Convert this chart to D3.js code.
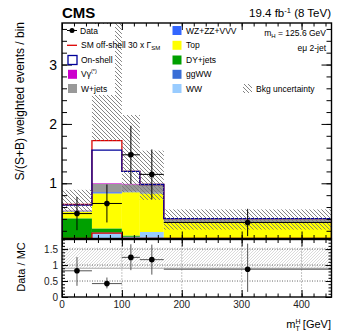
<!DOCTYPE html>
<html>
<head>
<meta charset="utf-8">
<script src="https://cdn.jsdelivr.net/npm/d3@7"></script>
<style>
  body { margin: 0; background: #fff; }
  svg { font-family: "Liberation Sans", Arial, sans-serif; }
</style>
</head>
<body>
<div id="chart"></div>
<script>
// bin edges of mT^H [GeV]
const binEdges = [0, 50, 100, 130, 170, 450];

// stacked backgrounds, bottom to top
const ww     = [0.02, 0.16, 0.09, 0.18, 0.02];
const ggww   = [0.01, 0.01, 0.01, 0.00, 0.01];
const dyjets = [0.38, 0.07, 0.02, 0.00, 0.01];
const topBkg = [0.11, 0.59, 0.73, 0.65, 0.30];
const wzzz   = [0.005, 0.02, 0.01, 0.01, 0.005];
const wjets  = [0.015, 0.14, 0.12, 0.13, 0.05];
const vgamma = [0.003, 0.01, 0.01, 0.00, 0.00];

// signals
const onShell  = [0.09, 0.56, 0.21, 0.01, 0.01];
const offShell = [0.01, 0.16, 0.00, 0.00, 0.00];

// background uncertainty band
const bkgUncLo = [0.52, 1.72, 0.85, 0.72, 0.22];
const bkgUncHi = [0.89, 3.75, 2.15, 1.55, 0.56];

// data
const dataX   = [25, 75, 115, 150, 310];
const dataY   = [0.49, 0.66, 1.48, 1.15, 0.34];
const dataErr = [0.28, 0.32, 0.49, 0.42, 0.23];

// data / MC
const ratioY     = [0.82, 0.42, 1.24, 1.17, 0.87];
const ratioErrLo = [0.47, 0.15, 0.40, 0.47, 0.71];
const ratioErrHi = [0.43, 0.19, 0.41, 0.47, 0.80];
const ratioBandLo = [0.90, 0.90, 0.90, 0.90, 0.90];
const ratioBandHi = [1.55, 1.55, 1.55, 1.55, 1.55];

const xTicks = [0, 100, 200, 300, 400];
const yTicks = [1, 2, 3];
const ratioTicks = [0, 0.5, 1, 1.5];

const W = 349, H = 333;
const left = 62, right = 331.5;
const mainTop = 23, mainBottom = 238.5;
const ratioTop = 239.5, ratioBottom = 297;

const svg = d3.select("#chart").append("svg")
    .attr("width", W).attr("height", H);

const defs = svg.append("defs");
defs.append("pattern")
    .attr("id", "hatch")
    .attr("patternUnits", "userSpaceOnUse")
    .attr("width", 4).attr("height", 4)
    .append("path")
    .attr("d", "M-1,-1 L5,5 M-1,3 L1,5 M3,-1 L5,1")
    .attr("stroke", "#777").attr("stroke-width", 0.9);
defs.append("pattern")
    .attr("id", "hatchLight")
    .attr("patternUnits", "userSpaceOnUse")
    .attr("width", 3).attr("height", 3)
    .append("path")
    .attr("d", "M-1,4 L4,-1 M-1,1 L1,-1 M2,4 L4,2")
    .attr("stroke", "#ccc").attr("stroke-width", 0.7);
defs.append("clipPath").attr("id", "clipMain")
    .append("rect").attr("x", left).attr("y", mainTop)
    .attr("width", right - left).attr("height", mainBottom - mainTop);
defs.append("clipPath").attr("id", "clipRatio")
    .append("rect").attr("x", left).attr("y", ratioTop)
    .attr("width", right - left).attr("height", ratioBottom - ratioTop);

const x = d3.scaleLinear().domain([0, 450]).range([left, right]);
const y = d3.scaleLinear().domain([0.07, 3.7]).range([mainBottom, mainTop]);
const yr = d3.scaleLinear().domain([0, 1.8]).range([ratioBottom, ratioTop]);

// build table for the stack
const bins = d3.range(binEdges.length - 1).map(i => ({
    lo: binEdges[i], hi: binEdges[i + 1],
    ww: ww[i], ggww: ggww[i], dy: dyjets[i], top: topBkg[i],
    wz: wzzz[i], wjets: wjets[i], vg: vgamma[i]
}));
const keys = ["ww", "ggww", "dy", "top", "wz", "wjets", "vg"];
const colors = {
    ww: "#99ccff", ggww: "#3a6ed6", dy: "#00a000", top: "#ffff00",
    wz: "#3366ff", wjets: "#999999", vg: "#cc00cc"
};
const series = d3.stack().keys(keys)(bins);
const bkgTotal = bins.map(b => d3.sum(keys, k => b[k]));

const gMain = svg.append("g").attr("clip-path", "url(#clipMain)");

series.forEach(s => {
    gMain.selectAll(null)
        .data(s)
        .enter().append("rect")
        .attr("x", d => x(d.data.lo))
        .attr("width", d => x(d.data.hi) - x(d.data.lo))
        .attr("y", d => y(d[1]))
        .attr("height", d => Math.max(0, y(d[0]) - y(d[1])))
        .attr("fill", colors[s.key]);
});

// step path helper
function stepPath(vals, scale, yMin) {
    let p = "";
    vals.forEach((v, i) => {
        const yy = scale(Math.max(v, yMin));
        p += (i === 0 ? `M${x(binEdges[0])},${scale(yMin)}V${yy}` : `V${yy}`) + `H${x(binEdges[i + 1])}`;
    });
    return p + `V${scale(yMin)}`;
}

// off-shell alone (red) along bottom
gMain.append("path")
    .attr("d", stepPath(offShell, y, 0.07))
    .attr("fill", "none").attr("stroke", "#dd0000").attr("stroke-width", 1.3);

// stacked signals
const withOn = bkgTotal.map((v, i) => v + onShell[i]);
const withOff = withOn.map((v, i) => v + offShell[i]);
gMain.append("path")
    .attr("d", stepPath(withOff, y, 0.07))
    .attr("fill", "none").attr("stroke", "#dd0000").attr("stroke-width", 1.3);
gMain.append("path")
    .attr("d", stepPath(withOn, y, 0.07))
    .attr("fill", "none").attr("stroke", "#000099").attr("stroke-width", 1.3);

// uncertainty band
gMain.selectAll(".unc")
    .data(bins)
    .enter().append("rect")
    .attr("x", d => x(d.lo))
    .attr("width", d => x(d.hi) - x(d.lo))
    .attr("y", (d, i) => y(bkgUncHi[i]))
    .attr("height", (d, i) => y(bkgUncLo[i]) - y(bkgUncHi[i]))
    .attr("fill", "url(#hatch)");

// left legend box (white) covers band
svg.append("rect").attr("x", left + 1).attr("y", mainTop + 1)
    .attr("width", 52).attr("height", 71).attr("fill", "#fff");

// data points main
const gData = svg.append("g").attr("clip-path", "url(#clipMain)");
dataX.forEach((dx, i) => {
    gData.append("line")
        .attr("x1", x(binEdges[i])).attr("x2", x(binEdges[i + 1]))
        .attr("y1", y(dataY[i])).attr("y2", y(dataY[i]))
        .attr("stroke", "#000").attr("stroke-width", 1);
    gData.append("line")
        .attr("x1", x(dx)).attr("x2", x(dx))
        .attr("y1", y(dataY[i] - dataErr[i])).attr("y2", y(dataY[i] + dataErr[i]))
        .attr("stroke", "#000").attr("stroke-width", 1);
    gData.append("circle")
        .attr("cx", x(dx)).attr("cy", y(dataY[i])).attr("r", 2.8)
        .attr("fill", "#000");
});

// ratio panel
const gRatio = svg.append("g").attr("clip-path", "url(#clipRatio)");
gRatio.selectAll(".rb")
    .data(bins)
    .enter().append("rect")
    .attr("x", d => x(d.lo))
    .attr("width", d => x(d.hi) - x(d.lo))
    .attr("y", (d, i) => yr(ratioBandHi[i]))
    .attr("height", (d, i) => yr(ratioBandLo[i]) - yr(ratioBandHi[i]))
    .attr("fill", "url(#hatchLight)");
gRatio.append("path")
    .attr("d", stepPath(ratioBandLo, yr, 0).replace(/^M[^V]*V[^V]*/, m => m))
    .attr("fill", "none").attr("stroke", "#aaa").attr("stroke-width", 1);
xTicks.slice(1).forEach(t => {
    gRatio.append("line")
        .attr("x1", x(t)).attr("x2", x(t))
        .attr("y1", ratioTop).attr("y2", ratioBottom)
        .attr("stroke", "#888").attr("stroke-dasharray", "1,2");
});
[0.5, 1, 1.5].forEach(t => {
    gRatio.append("line")
        .attr("x1", left).attr("x2", right)
        .attr("y1", yr(t)).attr("y2", yr(t))
        .attr("stroke", "#666").attr("stroke-dasharray", "1,1.5");
});
dataX.forEach((dx, i) => {
    gRatio.append("line")
        .attr("x1", x(binEdges[i])).attr("x2", x(binEdges[i + 1]))
        .attr("y1", yr(ratioY[i])).attr("y2", yr(ratioY[i]))
        .attr("stroke", "#555").attr("stroke-width", 1);
    gRatio.append("line")
        .attr("x1", x(dx)).attr("x2", x(dx))
        .attr("y1", yr(ratioY[i] - ratioErrLo[i])).attr("y2", yr(ratioY[i] + ratioErrHi[i]))
        .attr("stroke", "#555").attr("stroke-width", 1);
    gRatio.append("circle")
        .attr("cx", x(dx)).attr("cy", yr(ratioY[i])).attr("r", 2.8)
        .attr("fill", "#000");
});

// axes with inward ticks (ROOT style)
function ticksAxis(axisFn, scale, pos, values, size, transform) {
    svg.append("g")
        .attr("transform", transform)
        .call(axisFn(scale).tickValues(values).tickSize(size).tickFormat(""))
        .call(g => g.select(".domain").remove())
        .selectAll("line").attr("stroke", "#000");
}
const xMinor = d3.range(0, 451, 20);
const yMinor = d3.range(0.2, 3.7, 0.2);
const rMinor = d3.range(0, 1.81, 0.1);

// main panel
ticksAxis(d3.axisBottom, x, 0, xMinor, -3.5, `translate(0,${mainBottom})`);
ticksAxis(d3.axisBottom, x, 0, xTicks, -7, `translate(0,${mainBottom})`);
ticksAxis(d3.axisTop, x, 0, xMinor, -3.5, `translate(0,${mainTop})`);
ticksAxis(d3.axisTop, x, 0, xTicks, -7, `translate(0,${mainTop})`);
ticksAxis(d3.axisLeft, y, 0, yMinor, -5, `translate(${left},0)`);
ticksAxis(d3.axisLeft, y, 0, yTicks, -10, `translate(${left},0)`);
ticksAxis(d3.axisRight, y, 0, yMinor, -5, `translate(${right},0)`);
ticksAxis(d3.axisRight, y, 0, yTicks, -10, `translate(${right},0)`);
// ratio panel
ticksAxis(d3.axisBottom, x, 0, xMinor, -3.5, `translate(0,${ratioBottom})`);
ticksAxis(d3.axisBottom, x, 0, xTicks, -7, `translate(0,${ratioBottom})`);
ticksAxis(d3.axisTop, x, 0, xMinor, -3.5, `translate(0,${ratioTop})`);
ticksAxis(d3.axisTop, x, 0, xTicks, -7, `translate(0,${ratioTop})`);
ticksAxis(d3.axisLeft, yr, 0, rMinor, -3, `translate(${left},0)`);
ticksAxis(d3.axisLeft, yr, 0, ratioTicks, -6, `translate(${left},0)`);
ticksAxis(d3.axisRight, yr, 0, rMinor, -3, `translate(${right},0)`);
ticksAxis(d3.axisRight, yr, 0, ratioTicks, -6, `translate(${right},0)`);

// frames
svg.append("rect").attr("x", left).attr("y", mainTop)
    .attr("width", right - left).attr("height", mainBottom - mainTop)
    .attr("fill", "none").attr("stroke", "#000").attr("stroke-width", 1.4);
svg.append("rect").attr("x", left).attr("y", ratioTop)
    .attr("width", right - left).attr("height", ratioBottom - ratioTop)
    .attr("fill", "none").attr("stroke", "#000").attr("stroke-width", 1.4);

// tick labels
svg.append("g").selectAll("text").data(yTicks).enter().append("text")
    .attr("x", 57).attr("y", d => y(d) + 5)
    .attr("text-anchor", "end").attr("font-size", 14).text(d => d);
svg.append("g").selectAll("text").data(ratioTicks).enter().append("text")
    .attr("x", 58).attr("y", d => yr(d) + 3.5)
    .attr("text-anchor", "end").attr("font-size", 10).attr("fill", "#222").text(d => d);
svg.append("g").selectAll("text").data(xTicks).enter().append("text")
    .attr("x", d => x(d)).attr("y", 307.5)
    .attr("text-anchor", "middle").attr("font-size", 10).attr("fill", "#222").text(d => d);

// axis titles
svg.append("text")
    .attr("transform", "translate(24,22) rotate(-90)")
    .attr("text-anchor", "end").attr("font-size", 12)
    .text("S/(S+B) weighted events / bin");
svg.append("text")
    .attr("transform", "translate(25,267) rotate(-90)")
    .attr("text-anchor", "middle").attr("font-size", 11)
    .text("Data / MC");
const xt = svg.append("text").attr("x", 331).attr("y", 328)
    .attr("text-anchor", "end").attr("font-size", 11);
xt.append("tspan").text("m");
xt.append("tspan").attr("font-size", 7).attr("dy", -4).text("H");
xt.append("tspan").attr("font-size", 7).attr("dx", -5).attr("dy", 7).text("T");
xt.append("tspan").attr("dy", -3).text(" [GeV]");

// header
svg.append("text").attr("x", 62).attr("y", 18)
    .attr("font-size", 15).attr("font-weight", "bold").text("CMS");
const lumi = svg.append("text").attr("x", 331).attr("y", 17)
    .attr("text-anchor", "end").attr("font-size", 11.5);
lumi.append("tspan").text("19.4 fb");
lumi.append("tspan").attr("font-size", 7.5).attr("dy", -4).text("-1");
lumi.append("tspan").attr("dy", 4).text(" (8 TeV)");

const mh = svg.append("text").attr("x", 326).attr("y", 36)
    .attr("text-anchor", "end").attr("font-size", 8.5);
mh.append("tspan").text("m");
mh.append("tspan").attr("font-size", 6).attr("dy", 2).text("H");
mh.append("tspan").attr("dy", -2).text(" = 125.6 GeV");
svg.append("text").attr("x", 326).attr("y", 51)
    .attr("text-anchor", "end").attr("font-size", 8.5).text("eμ 2-jet");

// legend
const rowY = [30.5, 45.3, 60, 74.3, 88.5];
const lg = svg.append("g").attr("font-size", 8.5);
// left column
lg.append("line").attr("x1", 67).attr("x2", 77).attr("y1", rowY[0]).attr("y2", rowY[0]).attr("stroke", "#000");
lg.append("circle").attr("cx", 72).attr("cy", rowY[0]).attr("r", 2.5);
lg.append("text").attr("x", 80).attr("y", rowY[0] + 3).text("Data");
lg.append("line").attr("x1", 67).attr("x2", 77).attr("y1", rowY[1]).attr("y2", rowY[1]).attr("stroke", "#dd0000").attr("stroke-width", 1.3);
const sm = lg.append("text").attr("x", 81).attr("y", rowY[1] + 3);
sm.append("tspan").text("SM off-shell 30 x Γ");
sm.append("tspan").attr("font-size", 6).attr("dy", 2).text("SM");
lg.append("rect").attr("x", 68).attr("y", rowY[2] - 4.5).attr("width", 9).attr("height", 9)
    .attr("fill", "#fff").attr("stroke", "#000099").attr("stroke-width", 1.3);
lg.append("text").attr("x", 81).attr("y", rowY[2] + 3).text("On-shell");
lg.append("rect").attr("x", 68).attr("y", rowY[3] - 4.5).attr("width", 9).attr("height", 9).attr("fill", colors.vg);
const vgt = lg.append("text").attr("x", 81).attr("y", rowY[3] + 3);
vgt.append("tspan").text("Vγ");
vgt.append("tspan").attr("font-size", 5.5).attr("dy", -4).text("(*)");
lg.append("rect").attr("x", 68).attr("y", rowY[4] - 4.5).attr("width", 9).attr("height", 9).attr("fill", colors.wjets);
lg.append("text").attr("x", 81).attr("y", rowY[4] + 3).text("W+jets");
// right column
const rightItems = [["wz", "WZ+ZZ+VVV"], ["top", "Top"], ["dy", "DY+jets"], ["ggww", "ggWW"], ["ww", "WW"]];
rightItems.forEach(([k, label], i) => {
    lg.append("rect").attr("x", 172.5).attr("y", rowY[i] - 4.5).attr("width", 9).attr("height", 9).attr("fill", colors[k]);
    lg.append("text").attr("x", 186).attr("y", rowY[i] + 3).text(label);
});
lg.append("rect").attr("x", 243).attr("y", rowY[4] - 4.5).attr("width", 9).attr("height", 9).attr("fill", "url(#hatch)");
lg.append("text").attr("x", 256).attr("y", rowY[4] + 3).text("Bkg uncertainty");
</script>
</body>
</html>
